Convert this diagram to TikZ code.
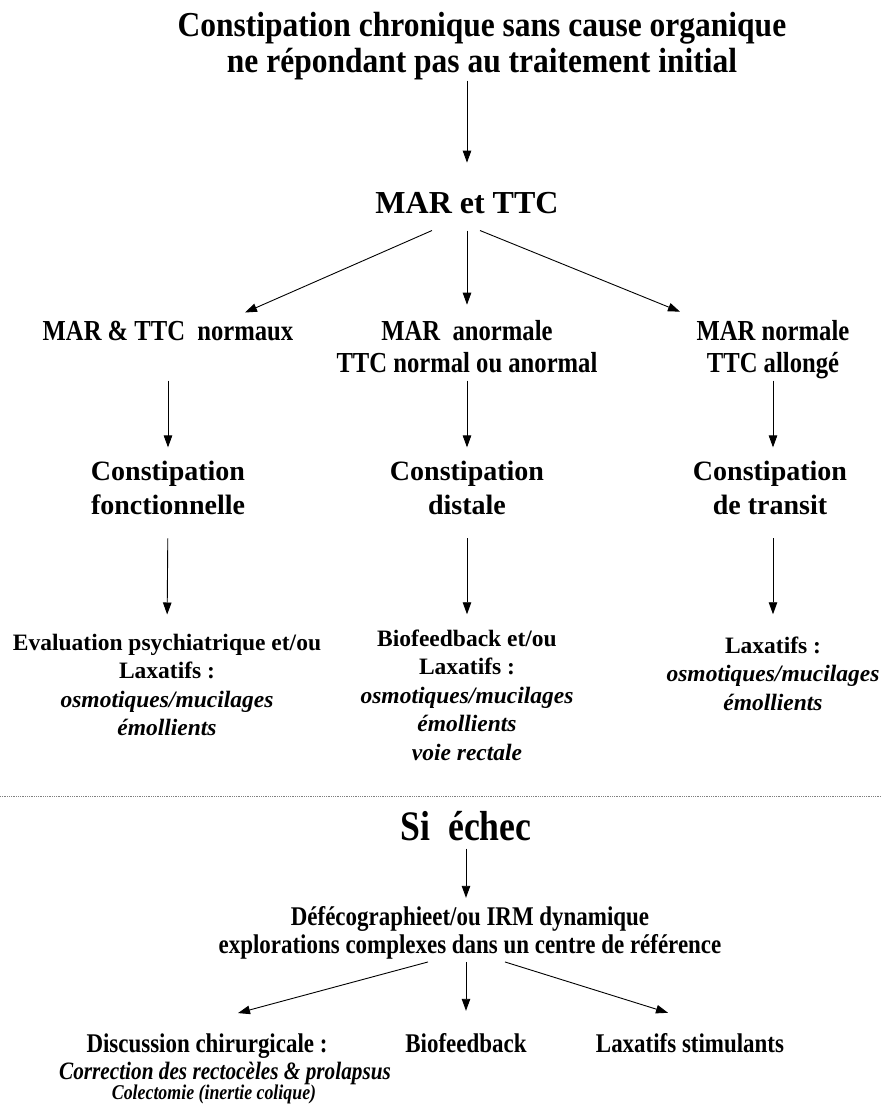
\documentclass[tikz,border=0pt]{standalone}
\usepackage{fontspec}
\setmainfont{Liberation Serif}
\newfontfamily\narrowfont[FakeStretch=0.85]{Liberation Serif}
\newfontfamily\titlefont[FakeStretch=0.9]{Liberation Serif}
\usetikzlibrary{arrows.meta}

\tikzset{
  arr/.style={-{Triangle[length=12pt,width=8.5pt]}, line width=0.9pt},
  titre/.style={font=\titlefont\bfseries\fontsize{35}{36}\selectfont, align=center, inner sep=0, anchor=base},
  examen/.style={font=\bfseries\fontsize{32}{38}\selectfont, inner sep=0, anchor=base},
  resultat/.style={font=\narrowfont\bfseries\fontsize{29}{32}\selectfont, align=center, inner sep=0, anchor=base},
  diag/.style={font=\bfseries\fontsize{28}{34}\selectfont, align=center, inner sep=0, anchor=base},
  traitement/.style={font=\bfseries\fontsize{23.5}{28.5}\selectfont, align=center, inner sep=0, anchor=base},
  echec/.style={font=\narrowfont\bfseries\fontsize{42}{46}\selectfont, inner sep=0, anchor=base},
  explo/.style={font=\narrowfont\bfseries\fontsize{27}{28}\selectfont, align=center, inner sep=0, anchor=base},
  option/.style={font=\narrowfont\bfseries\fontsize{27}{30}\selectfont, inner sep=0, anchor=base}
}

\begin{document}
\begin{tikzpicture}[x=1pt, y=-1pt]
\useasboundingbox (0,0) rectangle (882,1104);

% Title and first exam
\node[titre] (titre) at (482,72) {Constipation chronique sans cause organique\\ne répondant pas au traitement initial};
\node[examen] (mar) at (467,213) {MAR et TTC};
\draw[arr, shorten <=1pt, shorten >=29pt] (titre.south -| mar.north) -- (mar.north);

% Results of MAR and TTC
\node[resultat] (normaux) at (168,340) {MAR \& TTC\ \ normaux};
\node[resultat] (anormale) at (467,372) {MAR\ \ anormale\\TTC normal ou anormal};
\node[resultat] (normale) at (773,372) {MAR normale\\TTC allongé};
\draw[arr] ([xshift=-35pt,yshift=-17pt]mar.south) -- ([xshift=77pt,yshift=8pt]normaux.north);
\draw[arr, shorten <=17pt, shorten >=15pt] (mar.south) -- (anormale.north);
\draw[arr] ([xshift=13pt,yshift=-17pt]mar.south) -- ([xshift=-93pt,yshift=8pt]normale.north);

% Types of constipation
\node[diag] (fonct) at (168,514) {Constipation\\fonctionnelle};
\node[diag] (distale) at (467,514) {Constipation\\distale};
\node[diag] (transit) at (770,514) {Constipation\\de transit};
\draw[arr, shorten <=8pt, shorten >=13pt] (anormale.south -| fonct.north) -- (fonct.north);
\draw[arr, shorten <=8pt, shorten >=13pt] (anormale.south) -- (distale.north);
\draw[arr, shorten <=8pt, shorten >=13pt] (anormale.south -| normale.north) -- (normale.north |- transit.north);

% Treatments
\node[traitement] (psy) at (167,735.5) {Evaluation psychiatrique et/ou\\Laxatifs :\\\textit{osmotiques/mucilages}\\\textit{émollients}};
\node[traitement] (bio) at (467,760) {Biofeedback et/ou\\Laxatifs :\\\textit{osmotiques/mucilages}\\\textit{émollients}\\\textit{voie rectale}};
\node[traitement] (lax) at (773,710) {Laxatifs :\\\textit{osmotiques/mucilages}\\\textit{émollients}};
\draw[arr, shorten <=24pt, shorten >=19pt] (fonct.south) -- (psy.north);
\draw[arr, shorten <=24pt, shorten >=15pt] (distale.south) -- (bio.north);
\draw[arr, shorten <=24pt, shorten >=22pt] (transit.south -| lax.north) -- (lax.north);

\draw[densely dotted, gray, line width=0.8pt] (0,796) -- (882,796);

% Second line
\node[echec] (echec) at (466,840) {Si\ \ échec};
\node[explo] (defeco) at (470,953) {Défécographieet/ou IRM dynamique\\explorations complexes dans un centre de référence};
\draw[arr, shorten <=8pt, shorten >=8pt] (echec.south) -- (echec.south |- defeco.north);

\node[option] (chir) at (207,1052) {Discussion chirurgicale :};
\node[option] (biofb) at (466,1052) {Biofeedback};
\node[option] (stim) at (690,1052) {Laxatifs stimulants};
\node[option, font=\narrowfont\bfseries\itshape\fontsize{25}{28}\selectfont] (rectocele) at (225,1079) {Correction des rectocèles \& prolapsus};
\node[option, font=\narrowfont\bfseries\itshape\fontsize{21}{24}\selectfont] (colectomie) at (214,1099) {Colectomie (inertie colique)};
\draw[arr] ([xshift=-42pt,yshift=-3pt]defeco.south) -- ([xshift=31pt,yshift=20pt]chir.north);
\draw[arr, shorten <=3pt, shorten >=22pt] (defeco.south -| biofb.north) -- (biofb.north);
\draw[arr] ([xshift=35pt,yshift=-3pt]defeco.south) -- ([xshift=-22pt,yshift=20pt]stim.north);
\end{tikzpicture}
\end{document}
